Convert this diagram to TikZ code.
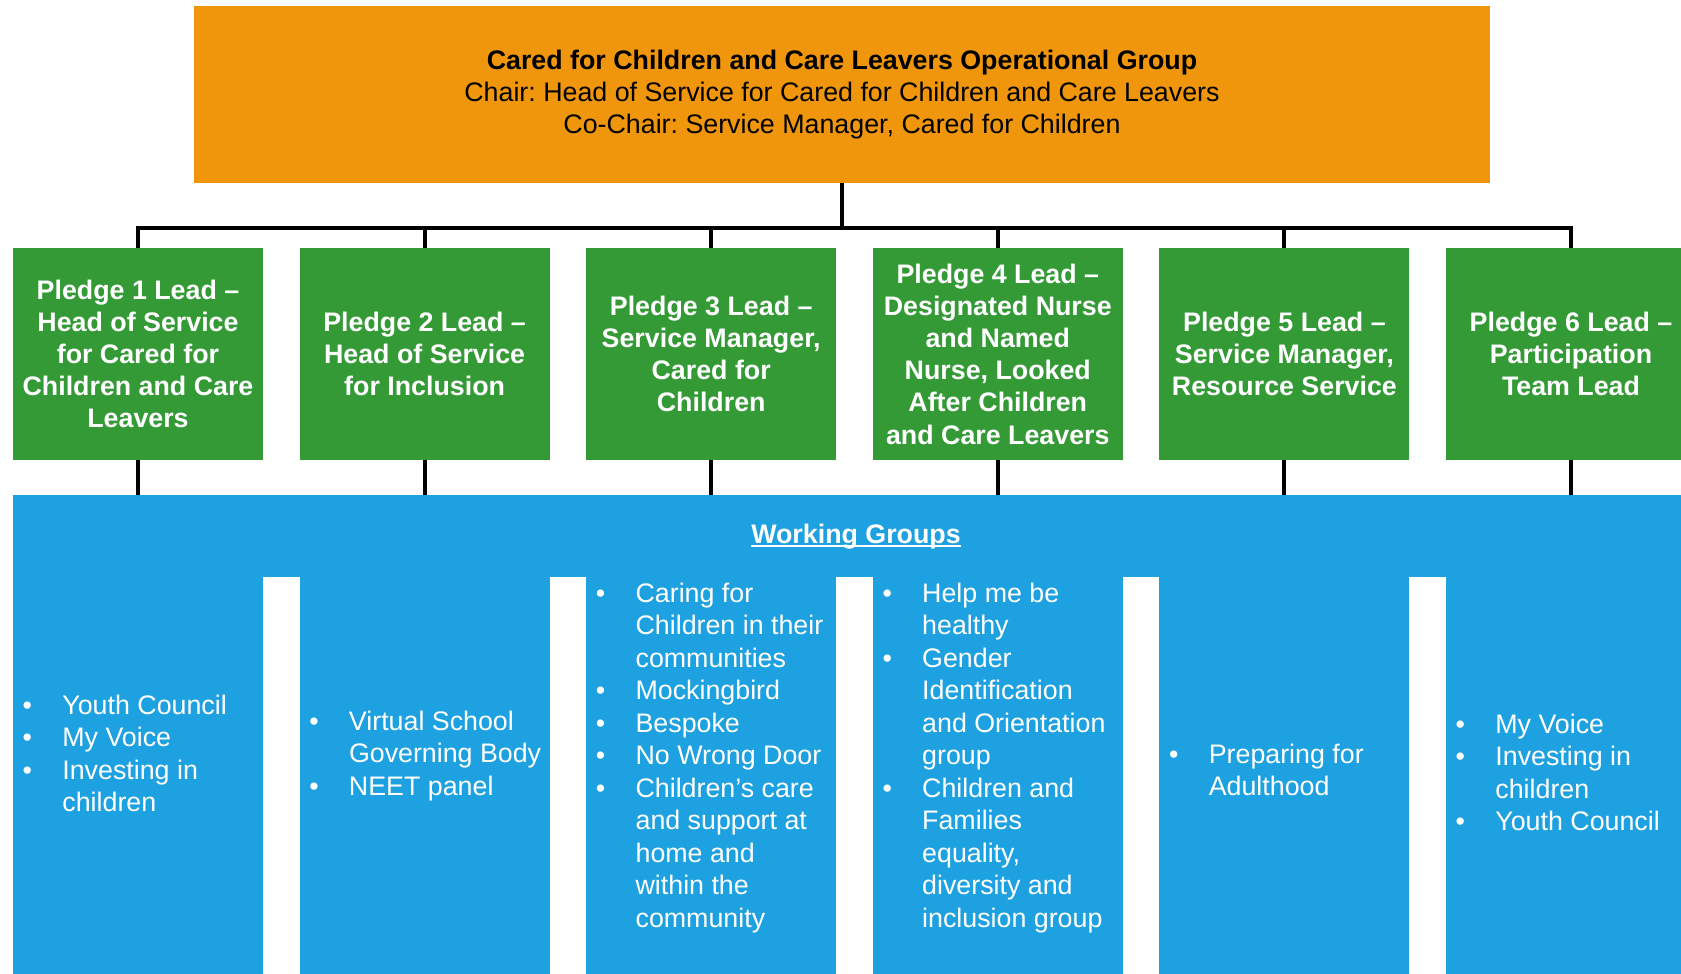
\documentclass[tikz,border=0pt]{standalone}
\usepackage{fontspec}
\setmainfont{Liberation Sans}
\definecolor{orgfill}{RGB}{240,150,12}
\definecolor{grnfill}{RGB}{52,154,54}
\definecolor{blufill}{RGB}{30,161,224}
\newcommand{\bul}{\makebox[19.85pt][l]{\textbullet}}
\newcommand{\ind}{\hspace*{19.85pt}}
\newcommand{\wordul}[1]{\setbox0\hbox{#1}\rlap{\rule[-2.2pt]{\wd0}{1pt}}\box0}
\frenchspacing
\begin{document}
\frenchspacing
\begin{tikzpicture}[x=0.5pt,y=-0.5pt,
  topbox/.style={fill=orgfill, draw=none, minimum width=648pt, minimum height=88.5pt, align=center, inner sep=0pt, outer sep=0pt, font=\fontsize{13.4}{16}\selectfont},
  leadbox/.style={fill=grnfill, draw=none, minimum width=125pt, minimum height=106pt, align=center, text=white, inner sep=0pt, outer sep=0pt, font=\fontsize{13.4}{16.1}\selectfont\bfseries},
  bluearea/.style={fill=blufill, draw=none, inner sep=0pt, outer sep=0pt, anchor=north west},
  conn/.style={draw=black, line width=2pt},
  listtxt/.style={text=white, inner sep=0pt, anchor=base west, font=\fontsize{13.4}{16.25}\selectfont}
]
\useasboundingbox (0,0) rectangle (1681,974);
\clip (0,0) rectangle (1681,974);

% top box
\node[topbox] (top) at (842,94.5) {\textbf{Cared for Children and Care Leavers Operational Group}\\Chair: Head of Service for Cared for Children and Care Leavers\\Co-Chair: Service Manager, Cared for Children};

% pledge lead boxes
\node[leadbox] (p1) at (138,354) {Pledge 1 Lead –\\Head of Service\\for Cared for\\Children and Care\\Leavers};
\node[leadbox] (p2) at (424.6,354) {Pledge 2 Lead –\\Head of Service\\for Inclusion};
\node[leadbox] (p3) at (711.2,354) {Pledge 3 Lead –\\Service Manager,\\Cared for\\Children};
\node[leadbox] (p4) at (997.8,354) {Pledge 4 Lead –\\Designated Nurse\\and Named\\Nurse, Looked\\After Children\\and Care Leavers};
\node[leadbox] (p5) at (1284.4,354) {Pledge 5 Lead –\\Service Manager,\\Resource Service};
\node[leadbox] (p6) at (1571,354) {Pledge 6 Lead –\\Participation\\Team Lead};

% blue working groups area
\node[bluearea, minimum width=845pt, minimum height=41pt] (band) at (13,495) {};
\node[bluearea, minimum width=125pt, minimum height=205pt] (c1) at (13,574) {};
\node[bluearea, minimum width=125pt, minimum height=205pt] (c2) at (299.6,574) {};
\node[bluearea, minimum width=125pt, minimum height=205pt] (c3) at (586.2,574) {};
\node[bluearea, minimum width=125pt, minimum height=205pt] (c4) at (872.8,574) {};
\node[bluearea, minimum width=125pt, minimum height=205pt] (c5) at (1159.4,574) {};
\node[bluearea, minimum width=125pt, minimum height=205pt] (c6) at (1446,574) {};

\node[text=white, inner sep=0pt, anchor=base, font=\fontsize{13.4}{16}\selectfont\bfseries] (wg) at (856,543) {\wordul{Working Groups}};

% connectors
\coordinate (bus) at (842,228);
\draw[conn] (top.south) -- (top.south |- bus);
\draw[conn] (p1.north) -- (p1.north |- bus) -- (p6.north |- bus) -- (p6.north);
\foreach \i in {2,...,5} {\draw[conn] (p\i.north) -- (p\i.north |- bus);}
\foreach \i in {1,...,6} {\draw[conn] (p\i.south) -- (p\i.south |- band.north);}

% lists
\node[listtxt] (l1) at (22.3,714) {\begin{tabular}[t]{@{}l@{}}\bul Youth Council\\\bul My Voice\\\bul Investing in\\\ind children\end{tabular}};
\node[listtxt] (l2) at (308.9,730) {\begin{tabular}[t]{@{}l@{}}\bul Virtual School\\\ind Governing Body\\\bul NEET panel\end{tabular}};
\node[listtxt] (l3) at (595.5,602) {\begin{tabular}[t]{@{}l@{}}\bul Caring for\\\ind Children in their\\\ind communities\\\bul Mockingbird\\\bul Bespoke\\\bul No Wrong Door\\\bul Children’s care\\\ind and support at\\\ind home and\\\ind within the\\\ind community\end{tabular}};
\node[listtxt] (l4) at (882.1,602) {\begin{tabular}[t]{@{}l@{}}\bul Help me be\\\ind healthy\\\bul Gender\\\ind Identification\\\ind and Orientation\\\ind group\\\bul Children and\\\ind Families\\\ind equality,\\\ind diversity and\\\ind inclusion group\end{tabular}};
\node[listtxt] (l5) at (1168.7,763) {\begin{tabular}[t]{@{}l@{}}\bul Preparing for\\\ind Adulthood\end{tabular}};
\node[listtxt] (l6) at (1455.3,733) {\begin{tabular}[t]{@{}l@{}}\bul My Voice\\\bul Investing in\\\ind children\\\bul Youth Council\end{tabular}};
\end{tikzpicture}
\end{document}
